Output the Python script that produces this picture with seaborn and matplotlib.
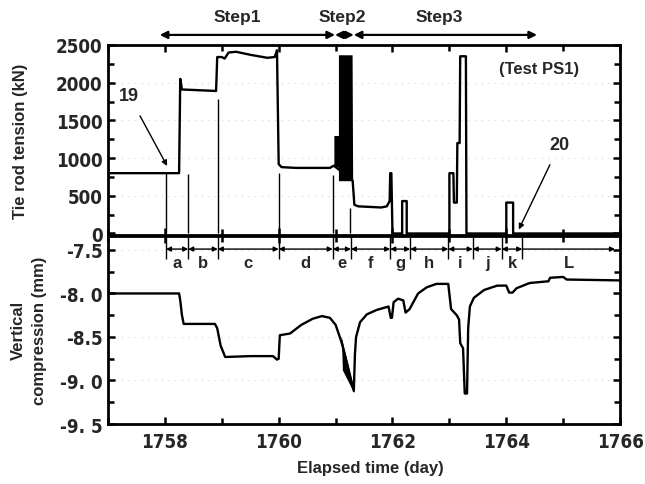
import matplotlib
matplotlib.use("Agg")
import matplotlib.pyplot as plt
import seaborn as sns
import pandas as pd
from matplotlib import font_manager as fm
from matplotlib.ticker import MultipleLocator, FixedLocator

# ---------------- data ----------------
tension_day = [1757.00, 1758.25, 1758.27, 1758.30, 1758.90, 1758.92, 1759.00, 1759.05,
               1759.12, 1759.25, 1759.50, 1759.80, 1759.93, 1759.97, 1760.00, 1760.05,
               1760.30, 1760.90, 1760.97, 1761.30, 1761.33, 1761.40, 1761.80, 1761.90,
               1761.95, 1761.96, 1761.98, 1762.00, 1762.17, 1762.17, 1762.25, 1762.25,
               1763.00, 1763.00, 1763.07, 1763.08, 1763.13, 1763.14, 1763.18, 1763.19,
               1763.29, 1763.30, 1764.00, 1764.00, 1764.12, 1764.12, 1766.00]
tension_kN = [800, 800, 2050, 1910, 1890, 2340, 2340, 2320,
              2400, 2410, 2370, 2330, 2340, 2430, 920, 880,
              870, 870, 900, 700, 380, 360, 345, 360,
              430, 800, 800, 0, 0, 430, 430, 0,
              0, 800, 800, 410, 410, 1200, 1200, 2350,
              2350, 0, 0, 410, 410, 0, 0]

# envelope of the dense oscillation (step 2) in tension
osc_day = [1760.97, 1761.05, 1761.05, 1761.29, 1761.30]
osc_hi = [1300, 1300, 2370, 2370, 700]
osc_lo = [880, 880, 700, 700, 700]

comp_day = [1757.00, 1758.25, 1758.27, 1758.30, 1758.33, 1758.88, 1758.92, 1758.98,
            1759.06, 1759.50, 1759.90, 1759.97, 1760.00, 1760.02, 1760.20, 1760.40,
            1760.60, 1760.76, 1760.90, 1761.00, 1761.10, 1761.20, 1761.32, 1761.34,
            1761.36, 1761.43, 1761.55, 1761.72, 1761.93, 1761.97, 1761.99, 1762.02,
            1762.10, 1762.19, 1762.23, 1762.30, 1762.45, 1762.60, 1762.77, 1762.98,
            1763.03, 1763.13, 1763.17, 1763.19, 1763.24, 1763.27, 1763.31, 1763.33,
            1763.36, 1763.43, 1763.61, 1763.84, 1764.00, 1764.05, 1764.11, 1764.18,
            1764.41, 1764.74, 1764.77, 1765.00, 1765.06, 1766.00]
comp_mm = [-8.00, -8.00, -8.08, -8.25, -8.35, -8.35, -8.40, -8.60,
           -8.73, -8.72, -8.72, -8.76, -8.75, -8.48, -8.46, -8.36,
           -8.29, -8.26, -8.28, -8.36, -8.55, -8.80, -9.12, -8.70,
           -8.50, -8.33, -8.24, -8.19, -8.15, -8.28, -8.28, -8.10,
           -8.06, -8.08, -8.22, -8.18, -8.00, -7.93, -7.89, -7.89,
           -8.18, -8.25, -8.30, -8.57, -8.63, -9.15, -9.15, -8.40,
           -8.15, -8.05, -7.96, -7.91, -7.91, -7.99, -7.99, -7.94,
           -7.88, -7.86, -7.82, -7.81, -7.84, -7.85]

dip_day = [1761.10, 1761.12, 1761.32]
dip_hi = [-8.50, -8.55, -9.10]
dip_lo = [-8.50, -8.88, -9.14]

# interval boundaries and labels
bounds = [1758.02, 1758.41, 1758.93, 1760.00, 1760.95, 1761.27, 1761.96,
          1762.31, 1762.98, 1763.41, 1763.92, 1764.28, 1765.91]
interval_labels = ["a", "b", "c", "d", "e", "f", "g", "h", "i", "j", "k", "L"]
# thin boundary lines extending into the upper panel (day, top in kN)
guide_day = [1758.02, 1758.41, 1758.93, 1760.00, 1760.95, 1761.25]
guide_top = [800, 790, 1790, 800, 780, 340]

steps = ["Step1", "Step2", "Step3"]
step_bounds = [1757.91, 1760.99, 1761.32, 1764.54]
step_text_x = [1759.27, 1761.11, 1762.82]

top_ticks = [0, 500, 1000, 1500, 2000, 2500]
bottom_ticks = [-9.5, -9.0, -8.5, -8.0, -7.5]
bottom_tick_labels = ["-9. 5", "-9. 0", "-8.5", "-8. 0", "-7.5"]
x_ticks = [1758, 1760, 1762, 1764, 1766]

# ---------------- style ----------------
sns.set_theme(style="ticks")
plt.rcParams["font.family"] = ["Liberation Sans", "DejaVu Sans"]
plt.rcParams["font.weight"] = "bold"

# condensed bold font for the tick numbers
tick_fp = fm.FontProperties(family="DejaVu Sans", weight="bold", stretch="condensed", size=13.5)

fig = plt.figure(figsize=(6.45, 4.85), dpi=100)
ax1 = fig.add_axes([0.1674, 0.5134, 0.794, 0.3918])
ax2 = fig.add_axes([0.1674, 0.1237, 0.794, 0.3876])

tdf = pd.DataFrame({"day": tension_day, "kN": tension_kN})
cdf = pd.DataFrame({"day": comp_day, "mm": comp_mm})

for ax in (ax1, ax2):
    ax.set_xlim(1757, 1766)
    ax.xaxis.set_major_locator(FixedLocator(x_ticks))
    ax.xaxis.set_minor_locator(MultipleLocator(1))
    for s in ax.spines.values():
        s.set_linewidth(2.0)
        s.set_color("black")
        s.set_visible(True)
    ax.tick_params(which="both", direction="in", top=True, right=True,
                   color="black", width=1.8)
    ax.tick_params(which="major", length=5)
    ax.tick_params(which="minor", length=4)
    ax.set_facecolor("white")

# ----- upper panel -----
ax1.set_ylim(-20, 2500)
ax1.yaxis.set_major_locator(FixedLocator(top_ticks))
ax1.yaxis.set_minor_locator(MultipleLocator(250))
for yv in top_ticks[1:-1]:
    ax1.axhline(yv, color="#d4d4d4", lw=0.8, ls=(0, (1, 5)), zorder=0)
ax1.fill_between(osc_day, osc_lo, osc_hi, color="black", lw=0, zorder=3)
ax1.fill_between([1763.19, 1763.21], [1790, 1790], [2350, 2350], color="black", lw=0, zorder=3)
sns.lineplot(data=tdf, x="day", y="kN", ax=ax1, estimator=None, sort=False,
             color="black", lw=1.7, zorder=4)
ax1.vlines(guide_day, 0, guide_top, color="black", lw=1.0, zorder=3)
ax1.set_xlabel("")
ax1.set_ylabel("")
ax1.tick_params(axis="x", labelbottom=False)
ax1.set_yticks(top_ticks)
ax1.set_yticklabels([str(v) for v in top_ticks])
for t in ax1.get_yticklabels():
    t.set_fontproperties(tick_fp)

ax1.text(1764.57, 2184, "(Test PS1)", ha="center", va="center", fontsize=12, fontweight="bold")
ax1.annotate("19", xy=(1758.04, 895), xytext=(1757.37, 1829), ha="center", va="center",
             fontsize=13, fontweight="bold",
             arrowprops=dict(arrowstyle="-|>", color="black", lw=1.0, mutation_scale=8,
                             shrinkA=7, shrinkB=0))
ax1.annotate("20", xy=(1764.22, 53), xytext=(1764.94, 1184), ha="center", va="center",
             fontsize=13, fontweight="bold",
             arrowprops=dict(arrowstyle="-|>", color="black", lw=1.0, mutation_scale=8,
                             shrinkA=7, shrinkB=0))

# step arrows above the panel
for i, name in enumerate(steps):
    x0, x1 = step_bounds[i], step_bounds[i + 1]
    ax1.annotate("", xy=(x0, 1.053), xytext=(x1, 1.053),
                 xycoords=("data", "axes fraction"), textcoords=("data", "axes fraction"),
                 arrowprops=dict(arrowstyle="<|-|>", color="black", lw=1.6,
                                 mutation_scale=11, shrinkA=0, shrinkB=0),
                 annotation_clip=False)
for name, xt in zip(steps, step_text_x):
    ax1.text(xt, 1.15, name, transform=ax1.get_xaxis_transform(), ha="center", va="center",
             fontsize=12.5, fontweight="bold", clip_on=False)

# ----- lower panel -----
ax2.set_ylim(-9.5, -7.34)
ax2.yaxis.set_major_locator(FixedLocator(bottom_ticks))
ax2.yaxis.set_minor_locator(MultipleLocator(0.25))
for yv in [-7.5, -8.5, -9.0]:
    ax2.axhline(yv, color="#d4d4d4", lw=0.8, ls=(0, (1, 5)), zorder=0)
ax2.fill_between(dip_day, dip_lo, dip_hi, color="black", lw=0, zorder=3)
sns.lineplot(data=cdf, x="day", y="mm", ax=ax2, estimator=None, sort=False,
             color="black", lw=1.7, zorder=4)
ax2.set_xlabel("")
ax2.set_ylabel("")
ax2.set_yticks(bottom_ticks)
ax2.set_yticklabels(bottom_tick_labels)
ax2.set_xticks(x_ticks)
ax2.set_xticklabels([str(v) for v in x_ticks])
for t in ax2.get_yticklabels() + ax2.get_xticklabels():
    t.set_fontproperties(tick_fp)
ax2.tick_params(axis="x", pad=6)
ax2.tick_params(axis="y", pad=4)
ax1.tick_params(axis="y", pad=4)

# interval separators, arrows and letters
ax2.vlines(bounds[:-1], -7.60, -7.34, color="black", lw=1.0, zorder=3)
for i, lab in enumerate(interval_labels):
    x0, x1 = bounds[i], bounds[i + 1]
    style = "<|-" if lab == "L" else "<|-|>"
    ax2.annotate("", xy=(x0, -7.49), xytext=(x1, -7.49),
                 arrowprops=dict(arrowstyle=style, color="black", lw=1.0,
                                 mutation_scale=7, shrinkA=0, shrinkB=0))
    ax2.text((x0 + x1) / 2, -7.645, lab, ha="center", va="center", fontsize=12,
             fontweight="bold")

fig.text(0.5736, 0.035, "Elapsed time (day)", ha="center", va="center",
         fontsize=12, fontweight="bold")
fig.text(0.032, 0.709, "Tie rod tension (kN)", ha="center", va="center", rotation=90,
         fontsize=12, fontweight="bold")
fig.text(0.028, 0.318, "Vertical", ha="center", va="center", rotation=90,
         fontsize=12, fontweight="bold")
fig.text(0.062, 0.318, "compression (mm)", ha="center", va="center", rotation=90,
         fontsize=12, fontweight="bold")

fig.savefig("out.png", dpi=100, facecolor="white")
